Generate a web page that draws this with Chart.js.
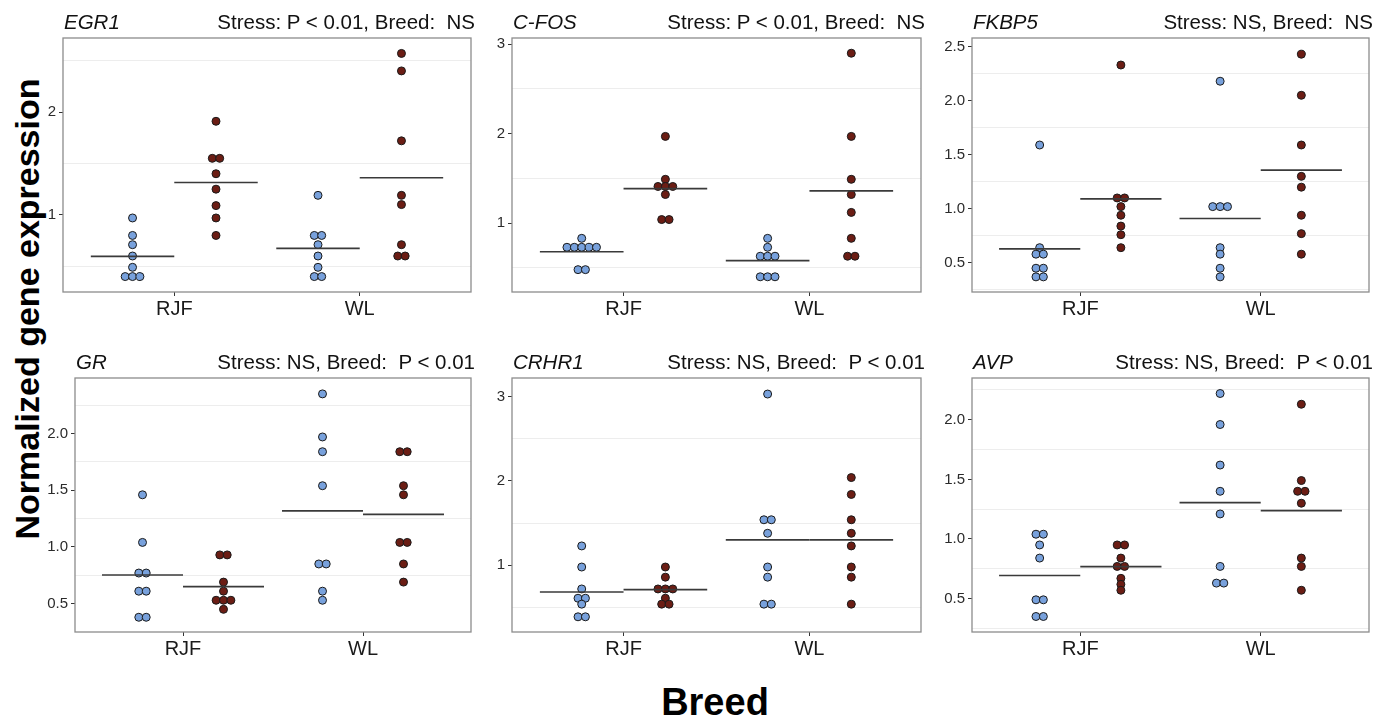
<!DOCTYPE html>
<html lang="en">
<head>
  <meta charset="UTF-8">
  <title>Normalized gene expression by breed</title>
  <script src="https://cdn.jsdelivr.net/npm/chart.js"></script>
  <style>
    body {
      margin: 0;
      width: 1390px;
      height: 721px;
      background: #fff;
      overflow: hidden;
      position: relative;
      font-family: "Liberation Sans", Arial, sans-serif;
    }

    .panel { position: absolute; }

    .gene, .stats {
      position: absolute;
      font-size: 20.5px;
      line-height: 24px;
      color: #111;
      white-space: pre;
    }

    .gene { font-style: italic; }

    #ylab {
      position: absolute;
      left: -273px;
      top: 289px;
      width: 600px;
      height: 40px;
      line-height: 40px;
      text-align: center;
      transform: rotate(-90deg);
      font-weight: bold;
      font-size: 34px;
      color: #000;
    }

    #xlab {
      position: absolute;
      left: 565px;
      top: 682px;
      width: 300px;
      line-height: 40px;
      text-align: center;
      font-family: "Liberation Sans", Arial, sans-serif;
      font-weight: bold;
      font-size: 38px;
      color: #000;
    }
  </style>
</head>
<body>

  <div id="ylab">Normalized gene expression</div>
  <div id="xlab">Breed</div>

  <script>
    const categories = ['RJF', 'WL'];
    const groups = ['Control', 'Stress'];
    const genes = ['EGR1', 'C-FOS', 'FKBP5', 'GR', 'CRHR1', 'AVP'];
    const stats = [
      'Stress: P < 0.01, Breed:  NS',
      'Stress: P < 0.01, Breed:  NS',
      'Stress: NS, Breed:  NS',
      'Stress: NS, Breed:  P < 0.01',
      'Stress: NS, Breed:  P < 0.01',
      'Stress: NS, Breed:  P < 0.01'
    ];

    // order in each: RJF control, RJF stress, WL control, WL stress
    const egr1 = [
      [0.97, 0.80, 0.71, 0.60, 0.49, 0.40, 0.40, 0.40],
      [1.91, 1.55, 1.55, 1.40, 1.25, 1.09, 0.97, 0.80],
      [1.19, 0.80, 0.80, 0.71, 0.60, 0.49, 0.40, 0.40],
      [2.57, 2.40, 1.72, 1.19, 1.10, 0.71, 0.60, 0.60]
    ];
    const cfos = [
      [0.83, 0.73, 0.73, 0.73, 0.73, 0.73, 0.48, 0.48],
      [1.97, 1.49, 1.41, 1.41, 1.41, 1.32, 1.04, 1.04],
      [0.83, 0.73, 0.63, 0.63, 0.63, 0.40, 0.40, 0.40],
      [2.90, 1.97, 1.49, 1.32, 1.12, 0.83, 0.63, 0.63]
    ];
    const fkbp5 = [
      [1.59, 0.64, 0.58, 0.58, 0.45, 0.45, 0.37, 0.37],
      [2.33, 1.10, 1.10, 1.02, 0.94, 0.84, 0.76, 0.64],
      [2.18, 1.02, 1.02, 1.02, 0.64, 0.58, 0.45, 0.37],
      [2.43, 2.05, 1.59, 1.30, 1.20, 0.94, 0.77, 0.58]
    ];
    const gr = [
      [1.46, 1.04, 0.77, 0.77, 0.61, 0.61, 0.38, 0.38],
      [0.93, 0.93, 0.69, 0.61, 0.53, 0.53, 0.53, 0.45],
      [2.35, 1.97, 1.84, 1.54, 0.85, 0.85, 0.61, 0.53],
      [1.84, 1.84, 1.54, 1.46, 1.04, 1.04, 0.85, 0.69]
    ];
    const crhr1 = [
      [1.23, 0.98, 0.72, 0.61, 0.61, 0.54, 0.39, 0.39],
      [0.98, 0.86, 0.72, 0.72, 0.72, 0.61, 0.54, 0.54],
      [3.03, 1.54, 1.54, 1.38, 0.98, 0.86, 0.54, 0.54],
      [2.04, 1.84, 1.54, 1.38, 1.23, 0.98, 0.86, 0.54]
    ];
    const avp = [
      [1.04, 1.04, 0.95, 0.84, 0.49, 0.49, 0.35, 0.35],
      [0.95, 0.95, 0.84, 0.77, 0.77, 0.67, 0.62, 0.57],
      [2.22, 1.96, 1.62, 1.40, 1.21, 0.77, 0.63, 0.63],
      [2.13, 1.49, 1.40, 1.40, 1.30, 0.84, 0.77, 0.57]
    ];

    const yTickLabels = [
      ['1', '2'],
      ['1', '2', '3'],
      ['0.5', '1.0', '1.5', '2.0', '2.5'],
      ['0.5', '1.0', '1.5', '2.0'],
      ['1', '2', '3'],
      ['0.5', '1.0', '1.5', '2.0']
    ];
    const yRanges = [[0.25, 2.72], [0.23, 3.07], [0.23, 2.58], [0.25, 2.49], [0.21, 3.22], [0.22, 2.35]];
    const allValues = [egr1, cfos, fkbp5, gr, crhr1, avp];

    // plot boxes in page pixels: left, top, right, bottom
    const boxes = [
      [63, 38, 472, 292], [512, 38, 922, 292], [972, 38, 1370, 292],
      [75, 378, 472, 632], [512, 378, 922, 632], [972, 378, 1370, 632]
    ];
    const colors = ['#78a1dc', '#6b1d14'];
    const FONT = '"Liberation Sans", Arial, sans-serif';
    const YW = 50, PT = 12, PR = 4, XH = 34;

    const panelBox = {
      id: 'panelBox',
      afterDraw(chart) {
        const { ctx, chartArea: a } = chart;
        ctx.save();
        ctx.strokeStyle = '#8c8c8c';
        ctx.lineWidth = 1.3;
        ctx.strokeRect(a.left, a.top, a.right - a.left, a.bottom - a.top);
        ctx.restore();
      }
    };

    // tied values sit side by side, like a centred dot plot
    function stackOffsets(vals, step) {
      const seen = {};
      return vals.map(v => {
        const n = vals.filter(w => w === v).length;
        const k = seen[v] = (seen[v] === undefined ? 0 : seen[v] + 1);
        return (k - (n - 1) / 2) * step;
      });
    }

    function makePanel(p) {
      const [l, t, r, b] = boxes[p];
      const [ymin, ymax] = yRanges[p];
      const majors = yTickLabels[p].map(Number);
      const half = (majors[1] - majors[0]) / 2;
      const minors = [];
      majors.forEach(v => {
        [v - half, v + half].forEach(m => {
          if (m > ymin && m < ymax && !minors.includes(m)) minors.push(m);
        });
      });
      const tickVals = majors.concat(minors).sort((a, c) => a - c);
      const isMinor = v => minors.some(m => Math.abs(m - v) < 1e-9);
      const step = 7.4 / ((r - l) / 2.2);

      const wrap = document.createElement('div');
      wrap.className = 'panel';
      wrap.style.left = (l - YW) + 'px';
      wrap.style.top = (t - PT) + 'px';
      const canvas = document.createElement('canvas');
      canvas.width = r - l + YW + PR;
      canvas.height = b - t + PT + XH;
      wrap.appendChild(canvas);
      document.body.appendChild(wrap);

      const gene = document.createElement('div');
      gene.className = 'gene';
      gene.textContent = genes[p];
      gene.style.left = (l + 1) + 'px';
      gene.style.top = (t - 28) + 'px';
      document.body.appendChild(gene);

      const st = document.createElement('div');
      st.className = 'stats';
      st.textContent = stats[p];
      st.style.right = (1390 - r - 3) + 'px';
      st.style.top = (t - 28) + 'px';
      document.body.appendChild(st);

      const datasets = [];
      allValues[p].forEach((vals, g) => {
        const c = Math.floor(g / 2) + 1;
        const s = g % 2;
        const centre = c + (s ? 0.225 : -0.225);
        const offs = stackOffsets(vals, step);
        const mean = vals.reduce((a, v) => a + v, 0) / vals.length;
        datasets.push({
          type: 'line',
          label: categories[c - 1] + ' ' + groups[s] + ' mean',
          data: [{ x: s ? c : c - 0.45, y: mean }, { x: s ? c + 0.45 : c, y: mean }],
          borderColor: '#3a3a3a',
          borderWidth: 1.7,
          pointRadius: 0,
          order: 0
        });
        datasets.push({
          type: 'scatter',
          label: categories[c - 1] + ' ' + groups[s],
          data: vals.map((v, i) => ({ x: centre + offs[i], y: v })),
          backgroundColor: colors[s],
          borderColor: '#1a1a1a',
          borderWidth: 1,
          pointRadius: 4,
          order: 1
        });
      });

      new Chart(canvas.getContext('2d'), {
        type: 'scatter',
        data: { datasets },
        options: {
          responsive: false,
          animation: false,
          layout: { padding: { top: PT, right: PR, left: 0, bottom: 0 } },
          plugins: { legend: { display: false }, tooltip: { enabled: false } },
          scales: {
            x: {
              type: 'linear',
              min: 0.4,
              max: 2.6,
              afterBuildTicks: s => { s.ticks = categories.map((c, i) => ({ value: i + 1 })); },
              afterFit: s => { s.height = XH; },
              ticks: {
                callback: (v, i) => categories[i],
                font: { family: FONT, size: 20 },
                color: '#1a1a1a',
                padding: 1,
                autoSkip: false,
                maxRotation: 0
              },
              grid: { drawOnChartArea: false, tickLength: 4, tickColor: '#333' },
              border: { display: false }
            },
            y: {
              type: 'linear',
              min: ymin,
              max: ymax,
              afterBuildTicks: s => { s.ticks = tickVals.map(v => ({ value: v })); },
              afterFit: s => { s.width = YW; },
              ticks: {
                callback: (v, i) => {
                  const k = majors.findIndex(m => Math.abs(m - v) < 1e-9);
                  return k >= 0 ? yTickLabels[p][k] : '';
                },
                font: { family: FONT, size: 15 },
                color: '#2b2b2b',
                padding: 3,
                autoSkip: false
              },
              grid: {
                color: ctx => isMinor(ctx.tick.value) ? '#ededed' : 'rgba(0,0,0,0)',
                tickColor: ctx => isMinor(ctx.tick.value) ? 'rgba(0,0,0,0)' : '#333',
                tickLength: 4,
                lineWidth: 1
              },
              border: { display: false }
            }
          }
        },
        plugins: [panelBox]
      });
    }

    genes.forEach((g, p) => makePanel(p));
  </script>

</body>
</html>
